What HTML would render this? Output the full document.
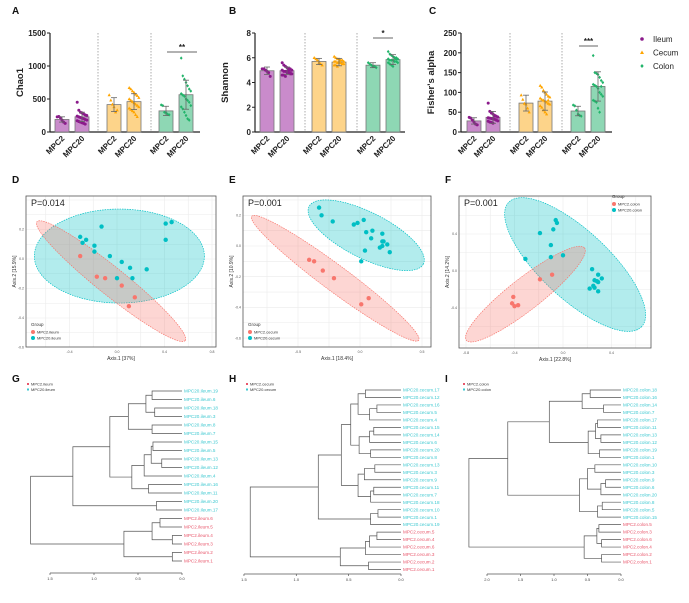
<!DOCTYPE html>
<html><head><meta charset="utf-8"><style>
body{margin:0;background:#fff;}
svg{display:block;font-family:"Liberation Sans",Arial,sans-serif;}
</style></head><body>
<svg id="fig" width="689" height="603" viewBox="0 0 689 603" xmlns="http://www.w3.org/2000/svg">
<rect width="689" height="603" fill="#fff"/>
</svg>
<script>
// ===== Bar chart data =====
const barGroups = ["Ileum","Cecum","Colon"];
const barCats = ["MPC2","MPC20"];
const chaoMean = [190,230,415,460,320,565];
const chaoSD = [40,70,105,120,70,220];
const chaoPts = [
 [230,235,215,180,150,130],
 [450,330,300,290,270,260,250,240,230,220,210,200,190,180,170,160,150,140,130,120],
 [560,480,420,380,300,330],
 [670,650,620,600,570,550,520,500,480,460,440,420,400,380,360,340,320,300,260,230],
 [410,400,300,290,270,260],
 [1120,850,800,750,700,650,620,580,560,540,500,480,450,400,380,350,300,250,200,180]];
const shanMean = [4.95,4.95,5.7,5.65,5.4,5.85];
const shanSD = [0.3,0.3,0.25,0.3,0.2,0.4];
const shanPts = [
 [5.1,5.1,5.0,4.9,4.8,4.5],
 [5.6,5.4,5.3,5.2,5.1,5.1,5.0,5.0,4.9,4.9,4.8,4.8,4.7,4.7,4.6,4.6,4.5,4.9,5.0,4.8],
 [6.0,5.9,5.8,5.6,5.5,5.4],
 [6.1,6.0,5.9,5.9,5.8,5.8,5.7,5.7,5.7,5.6,5.6,5.6,5.5,5.5,5.4,5.4,5.3,5.7,5.6,5.8],
 [5.6,5.5,5.4,5.3,5.3,5.2],
 [6.5,6.3,6.2,6.1,6.0,6.0,5.9,5.9,5.8,5.8,5.8,5.7,5.7,5.6,5.6,5.5,5.4,5.3,6.0,5.9]];
const fishMean = [28,37,73,78,53,115];
const fishSD = [8,15,20,23,12,37];
const fishPts = [
 [37,35,30,25,20,18],
 [73,52,48,45,42,40,38,36,35,34,33,32,30,28,27,25,24,22,40,31],
 [93,82,72,70,60,50],
 [117,113,105,100,95,90,88,85,82,80,78,75,72,70,66,62,55,50,45,80],
 [68,66,55,45,42,40],
 [193,150,148,145,138,130,125,120,118,115,110,100,95,90,80,78,75,60,50,115]];
const chaoTicks = [0,500,1000,1500];
const shanTicks = [0,2,4,6,8];
const fishTicks = [0,50,100,150,200,250];

// ===== PCoA data =====
const dCyan = [[-0.13,0.22],[0.41,0.24],[0.46,0.25],[-0.31,0.15],[-0.29,0.11],[-0.26,0.13],[-0.19,0.09],[-0.19,0.05],[-0.06,0.02],[0.04,-0.02],[0.11,-0.06],[0.25,-0.07],[0.13,-0.13],[0.0,-0.13],[0.41,0.13]];
const dRed = [[-0.31,0.02],[-0.17,-0.12],[-0.10,-0.13],[0.04,-0.18],[0.15,-0.26],[0.10,-0.32]];
const eCyan = [[-0.33,0.25],[-0.31,0.20],[-0.22,0.16],[-0.05,0.14],[-0.02,0.15],[0.03,0.17],[0.05,0.09],[0.10,0.10],[0.09,0.05],[0.18,0.08],[0.18,0.03],[0.19,0.03],[0.18,0.0],[0.22,0.01],[0.16,-0.01],[0.04,-0.03],[0.24,-0.04],[0.01,-0.10]];
const eRed = [[-0.41,-0.09],[-0.37,-0.10],[-0.30,-0.16],[-0.21,-0.21],[0.07,-0.34],[0.01,-0.38]];
const fCyan = [[-0.06,0.55],[-0.05,0.52],[-0.08,0.45],[-0.19,0.41],[-0.10,0.28],[-0.31,0.13],[-0.10,0.15],[0.0,0.17],[0.24,0.02],[0.29,-0.04],[0.32,-0.08],[0.26,-0.10],[0.28,-0.11],[0.29,-0.12],[0.25,-0.16],[0.26,-0.18],[0.22,-0.19],[0.29,-0.22]];
const fRed = [[-0.09,-0.04],[-0.19,-0.09],[-0.41,-0.28],[-0.42,-0.35],[-0.40,-0.38],[-0.37,-0.37]];
const dXTicks = [-0.4,0.0,0.4,0.8];
const dYTicks = [0.2,0.0,-0.2,-0.4,-0.6];
const eXTicks = [-0.5,0.0,0.5];
const eYTicks = [0.2,0.0,-0.2,-0.4,-0.6];
const fXTicks = [-0.8,-0.4,0.0,0.4];
const fYTicks = [0.4,0.0,-0.4];

// ===== Dendrogram data =====
const gTree = [1.72,
 [1.24,[0.82,[0.61,[0.41,[0.34,"MPC20.ileum.19","MPC20.ileum.6"],[0.31,"MPC20.ileum.18","MPC20.ileum.3"]],[0.34,"MPC20.ileum.8","MPC20.ileum.7"]],
   [0.57,[0.43,[0.35,[0.33,"MPC20.ileum.15","MPC20.ileum.5"],[0.23,"MPC20.ileum.13","MPC20.ileum.12"]],"MPC20.ileum.4"],[0.38,"MPC20.ileum.16","MPC20.ileum.11"]]],
  [0.29,"MPC20.ileum.20","MPC20.ileum.17"]],
 [0.66,[0.34,[0.25,"MPC2.ileum.6","MPC2.ileum.5"],[0.11,"MPC2.ileum.4","MPC2.ileum.3"]],[0.11,"MPC2.ileum.2","MPC2.ileum.1"]]];
const hTree = [1.44,
 [0.79,[0.57,[0.48,[0.41,[0.34,"MPC20.cecum.17","MPC20.cecum.12"],[0.30,[0.23,"MPC20.cecum.16","MPC20.cecum.5"],"MPC20.cecum.4"]],
    [0.40,[0.30,[0.26,"MPC20.cecum.15","MPC20.cecum.14"],"MPC20.cecum.6"],[0.29,"MPC20.cecum.20","MPC20.cecum.8"]]],
   [0.41,[0.35,[0.25,"MPC20.cecum.13","MPC20.cecum.3"],"MPC20.cecum.9"],[0.29,[0.26,"MPC20.cecum.11","MPC20.cecum.7"],"MPC20.cecum.18"]]],
  [0.29,[0.22,"MPC20.cecum.10","MPC20.cecum.1"],"MPC20.cecum.19"]],
 [0.58,[0.34,[0.30,[0.23,"MPC2.cecum.5","MPC2.cecum.4"],"MPC2.cecum.6"],"MPC2.cecum.3"],[0.31,"MPC2.cecum.2","MPC2.cecum.1"]]];
const iTree = [2.27,
 [1.69,[1.07,[0.58,[0.46,"MPC20.colon.18","MPC20.colon.16"],[0.26,"MPC20.colon.14","MPC20.colon.7"]],
   [0.49,[0.38,[0.35,"MPC20.colon.17","MPC20.colon.11"],[0.30,"MPC20.colon.13","MPC20.colon.12"]],[0.32,"MPC20.colon.19","MPC20.colon.1"]]],
  [0.62,[0.50,[0.39,"MPC20.colon.10","MPC20.colon.3"],[0.30,[0.23,"MPC20.colon.9","MPC20.colon.6"],"MPC20.colon.20"]],[0.35,[0.28,"MPC20.colon.8","MPC20.colon.5"],"MPC20.colon.15"]]],
 [0.55,[0.36,[0.33,"MPC2.colon.5","MPC2.colon.3"],[0.29,"MPC2.colon.6","MPC2.colon.4"]],[0.29,"MPC2.colon.2","MPC2.colon.1"]]];
const gTicks = [1.5,1.0,0.5,0.0];
const hTicks = [1.5,1.0,0.5,0.0];
const iTicks = [2.0,1.5,1.0,0.5,0.0];

const NS="http://www.w3.org/2000/svg";
const svg=document.getElementById('fig');
function mk(tag,attrs,parent,text){const e=document.createElementNS(NS,tag);for(const k in attrs)e.setAttribute(k,attrs[k]);if(text!==undefined)e.textContent=text;(parent||svg).appendChild(e);return e;}

// panel letters
[["A",12,14],["B",229,14],["C",429,14],["D",12,183],["E",229,183],["F",445,183],["G",12,382],["H",229,382],["I",445,382]].forEach(p=>{
 const t=mk('text',{x:p[1],y:p[2],'font-size':10,'font-weight':'bold',fill:'#111'},svg,p[0]);
 
 
});

const fillC=["#c98bcb","#fdd48a","#8ed7b4"], dotC=["#8b1a8b","#ffa500","#21b46a"];
function barPanel(cfg){
 const g=mk('g',{});
 
 
 const y=v=>cfg.y0-(v/cfg.max)*(cfg.y0-cfg.y1);
 mk('line',{x1:cfg.ax,y1:cfg.y1,x2:cfg.ax,y2:cfg.y0,stroke:'#222','stroke-width':1.2},g);
 mk('line',{x1:cfg.ax,y1:cfg.y0,x2:cfg.ax2,y2:cfg.y0,stroke:'#222','stroke-width':1.2},g);
 cfg.ticks.forEach(t=>{
  mk('line',{x1:cfg.ax-3,y1:y(t),x2:cfg.ax,y2:y(t),stroke:'#222','stroke-width':1},g);
  const tl=mk('text',{x:cfg.ax-4,y:y(t)+3,'font-size':8,'font-weight':'bold','text-anchor':'end',fill:'#222'},g,String(t));
  
  
 });
 const yt=mk('text',{x:0,y:0,'font-size':9.5,'font-weight':'bold','text-anchor':'middle',fill:'#222',transform:`translate(${cfg.ax-27},${(cfg.y0+cfg.y1)/2}) rotate(-90)`},g,cfg.title);
 
 
 cfg.divs.forEach(dx=>mk('line',{x1:dx,y1:cfg.y1,x2:dx,y2:cfg.y0,stroke:'#888','stroke-width':0.7,'stroke-dasharray':'1.5,1.5'},g));
 cfg.means.forEach((m,i)=>{
  const cx=cfg.xs[i], gi=Math.floor(i/2);
  const r=mk('rect',{x:cx-7,y:y(m),width:14,height:cfg.y0-y(m),fill:fillC[gi],stroke:'#777','stroke-width':0.8},g);
  
  
  cfg.pts[i].forEach((v,k)=>{
   const px=cx+((k%7)-3)*1.6;
   let d;
   if(gi===0) d=mk('circle',{cx:px,cy:y(v),r:1.5,fill:dotC[gi]},g);
   else if(gi===1) d=mk('path',{d:`M${px},${y(v)-1.8}L${px+1.6},${y(v)+1.2}L${px-1.6},${y(v)+1.2}Z`,fill:dotC[gi]},g);
   else d=mk('path',{d:`M${px},${y(v)-1.7}L${px+1.4},${y(v)}L${px},${y(v)+1.7}L${px-1.4},${y(v)}Z`,fill:dotC[gi]},g);
   
   
  });
  const sd=cfg.sds[i];
  mk('line',{x1:cx,y1:y(m+sd),x2:cx,y2:y(Math.max(0,m-sd)),stroke:'#666','stroke-width':0.8},g);
  mk('line',{x1:cx-3,y1:y(m+sd),x2:cx+3,y2:y(m+sd),stroke:'#666','stroke-width':0.8},g);
  mk('line',{x1:cx-3,y1:y(Math.max(0,m-sd)),x2:cx+3,y2:y(Math.max(0,m-sd)),stroke:'#666','stroke-width':0.8},g);
  const xl=mk('text',{x:0,y:0,'font-size':8,'font-weight':'bold','text-anchor':'end',fill:'#222',transform:`translate(${cx+3},${cfg.y0+7}) rotate(-45)`},g,barCats[i%2]);
  
  
 });
 const s=cfg.sig;
 mk('line',{x1:s[0],y1:s[2],x2:s[1],y2:s[2],stroke:'#333','stroke-width':0.8},g);
 const st=mk('text',{x:(s[0]+s[1])/2,y:s[2]-2,'font-size':8,'font-weight':'bold','text-anchor':'middle',fill:'#222'},g,s[3]);
 
 
}
barPanel({name:'chao1-chart',ax:50,ax2:200,y0:132,y1:33,max:1500,ticks:chaoTicks,title:'Chao1',xs:[62,82,114,134,166,186],divs:[98,151],means:chaoMean,sds:chaoSD,pts:chaoPts,sig:[167,197,52,'**']});
barPanel({name:'shannon-chart',ax:255,ax2:405,y0:132,y1:33,max:8,ticks:shanTicks,title:'Shannon',xs:[267,287,319,339,373,393],divs:[305,357],means:shanMean,sds:shanSD,pts:shanPts,sig:[373,393,38,'*']});
barPanel({name:'fishers-alpha-chart',ax:461,ax2:612,y0:132,y1:33,max:250,ticks:fishTicks,title:"Fisher's alpha",xs:[474,493,526,545,578,598],divs:[510,562],means:fishMean,sds:fishSD,pts:fishPts,sig:[579,598,46,'***']});

// bar legend
const lg=mk('g',{});


barGroups.forEach((n,i)=>{
 const yy=39+i*13.5;
 let d;
 if(i===0) d=mk('circle',{cx:642,cy:yy,r:1.8,fill:dotC[i]},lg);
 else if(i===1) d=mk('path',{d:`M642,${yy-2}L644,${yy+1.5}L640,${yy+1.5}Z`,fill:dotC[i]},lg);
 else d=mk('path',{d:`M642,${yy-2}L643.7,${yy}L642,${yy+2}L640.3,${yy}Z`,fill:dotC[i]},lg);
 
 
 const t=mk('text',{x:653,y:yy+3,'font-size':8,fill:'#222'},lg,n);
 
 
});

// PCoA
const CY="#00bfc4", RD="#f8766d";
function pcoa(c){
 const g=mk('g',{});
 
 
 const X=v=>c.x0+v*c.sx, Y=v=>c.y0-v*c.sy;
 mk('rect',{x:c.L,y:c.T,width:c.R-c.L,height:c.B-c.T,fill:'#fff'},g);
 const step=(c.xt[1]-c.xt[0]);
 for(let v=c.xt[0]-step*2;v<=c.xt[c.xt.length-1]+step*2;v+=step/2){const px=X(v);if(px>c.L&&px<c.R)mk('line',{x1:px,y1:c.T,x2:px,y2:c.B,stroke:'#ebebeb','stroke-width':0.6},g);}
 const ys=(c.yt[0]-c.yt[1]);
 for(let v=c.yt[c.yt.length-1]-ys*2;v<=c.yt[0]+ys*2;v+=ys/2){const py=Y(v);if(py>c.T&&py<c.B)mk('line',{x1:c.L,y1:py,x2:c.R,y2:py,stroke:'#ebebeb','stroke-width':0.6},g);}
 c.ell.forEach(e=>{
  const el=mk('ellipse',{cx:X(e[0]),cy:Y(e[1]),rx:e[2],ry:e[3],transform:`rotate(${e[4]} ${X(e[0])} ${Y(e[1])})`,fill:e[5],'fill-opacity':0.3,stroke:e[5],'stroke-width':0.7,'stroke-dasharray':'1.5,1'},g);
  
  
 });
 [[c.red,RD],[c.cyan,CY]].forEach(s=>s[0].forEach(p=>{
  const d=mk('circle',{cx:X(p[0]),cy:Y(p[1]),r:2.2,fill:s[1]},g);
  
  
 }));
 mk('rect',{x:c.L,y:c.T,width:c.R-c.L,height:c.B-c.T,fill:'none',stroke:'#555','stroke-width':0.8},g);
 c.xt.forEach(v=>{const t=mk('text',{x:X(v),y:c.B+6,'font-size':3.5,'text-anchor':'middle',fill:'#555'},g,v.toFixed(1));});
 c.yt.forEach(v=>{const t=mk('text',{x:c.L-2,y:Y(v)+1.2,'font-size':3.5,'text-anchor':'end',fill:'#555'},g,v.toFixed(1));});
 const xt=mk('text',{x:(c.L+c.R)/2,y:c.B+13,'font-size':5,'text-anchor':'middle',fill:'#333'},g,c.xlab);
 
 const yt=mk('text',{x:0,y:0,'font-size':5,'text-anchor':'middle',fill:'#333',transform:`translate(${c.L-10},${(c.T+c.B)/2}) rotate(-90)`},g,c.ylab);
 
 const pt=mk('text',{x:c.L+5,y:c.T+10,'font-size':9,fill:'#222'},g,c.p);
 
 const lx=c.leg[0], ly=c.leg[1];
 mk('text',{x:lx,y:ly,'font-size':4.5,fill:'#333'},g,'Group');
 c.lnames.forEach((n,i)=>{
  mk('circle',{cx:lx+2,cy:ly+6+i*6,r:2,fill:i?CY:RD},g);
  const t=mk('text',{x:lx+6,y:ly+7.5+i*6,'font-size':4,fill:'#333'},g,n);
  
 });
}
pcoa({name:'pcoa-ileum',L:26,R:216,T:196,B:347,x0:117,sx:118.75,y0:259,sy:147.5,xt:dXTicks,yt:dYTicks,xlab:'Axis.1   [37%]',ylab:'Axis.2   [15.9%]',p:'P=0.014',
 cyan:dCyan,red:dRed,ell:[[0.02,0.02,85,47,0,CY],[-0.05,-0.15,95,14,38.7,RD]],leg:[31,326],lnames:['MPC2.ileum','MPC20.ileum']});
pcoa({name:'pcoa-cecum',L:243,R:431,T:196,B:347,x0:360,sx:124,y0:246,sy:153.5,xt:eXTicks,yt:eYTicks,xlab:'Axis.1   [18.4%]',ylab:'Axis.2   [10.9%]',p:'P=0.001',
 cyan:eCyan,red:eRed,ell:[[0.05,0.07,64,23,26.7,CY],[-0.2,-0.21,104,13,36.6,RD]],leg:[248,326],lnames:['MPC2.cecum','MPC20.cecum']});
pcoa({name:'pcoa-colon',L:459,R:651,T:196,B:348,x0:563,sx:121.25,y0:271,sy:92.5,xt:fXTicks,yt:fYTicks,xlab:'Axis.1   [22.8%]',ylab:'Axis.2   [14.2%]',p:'P=0.001',
 cyan:fCyan,red:fRed,ell:[[0.1,0.07,91,34,43,CY],[-0.31,-0.25,75,16,-38,RD]],leg:[612,198],lnames:['MPC2.colon','MPC20.colon']});

// Dendrograms
function dendro(c){
 const g=mk('g',{});
 
 
 let idx=0;
 const X=h=>c.leafX-h*c.sc;
 function walk(n){
  if(typeof n==='string'){
   const yy=c.y0+idx*c.step; idx++;
   const red=n.startsWith('MPC2.');
   const t=mk('text',{x:c.leafX+2,y:yy+1.6,'font-size':4.6,fill:red?'#e8566b':'#3cc8d0'},g,n);
   
   return [c.leafX,yy];
  }
  const a=walk(n[1]), b=walk(n[2]), x=X(n[0]);
  mk('path',{d:`M${a[0]},${a[1]}H${x}V${b[1]}H${b[0]}`,fill:'none',stroke:'#555','stroke-width':0.7},g);
  return [x,(a[1]+b[1])/2];
 }
 walk(c.tree);
 mk('line',{x1:X(c.ticks[0]),y1:c.axY,x2:X(0),y2:c.axY,stroke:'#555','stroke-width':0.7},g);
 c.ticks.forEach(t=>{
  mk('line',{x1:X(t),y1:c.axY,x2:X(t),y2:c.axY+2,stroke:'#555','stroke-width':0.7},g);
  const tl=mk('text',{x:X(t),y:c.axY+7,'font-size':4,'text-anchor':'middle',fill:'#444'},g,t.toFixed(1));
  
 });
 c.lnames.forEach((n,i)=>{
  mk('rect',{x:c.lx-1,y:c.ly+i*5.5-1,width:2,height:2,fill:i?'#3cc8d0':'#e8566b'},g);
  const t=mk('text',{x:c.lx+3,y:c.ly+i*5.5+1.5,'font-size':4,fill:'#333'},g,n);
  
 });
}
dendro({name:'dendrogram-ileum',tree:gTree,leafX:182,sc:88,y0:391,step:8.5,axY:573,ticks:gTicks,lx:28,ly:384,lnames:['MPC2.ileum','MPC20.ileum']});
dendro({name:'dendrogram-cecum',tree:hTree,leafX:401,sc:104.7,y0:390,step:7.48,axY:574,ticks:hTicks,lx:247,ly:384,lnames:['MPC2.cecum','MPC20.cecum']});
dendro({name:'dendrogram-colon',tree:iTree,leafX:621,sc:67,y0:390,step:7.48,axY:574,ticks:iTicks,lx:464,ly:384,lnames:['MPC2.colon','MPC20.colon']});
</script>
</body></html>
